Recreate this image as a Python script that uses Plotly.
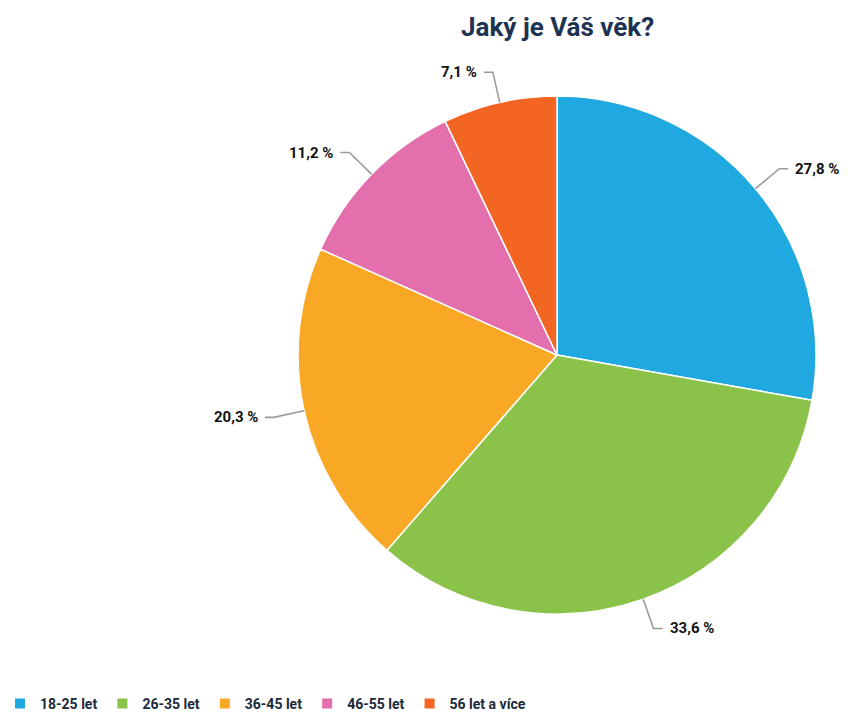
import math
import plotly.graph_objects as go

# Age groups and their share of respondents (%)
age_groups = ["18-25 let", "26-35 let", "36-45 let", "46-55 let", "56 let a více"]
shares = [27.8, 33.6, 20.3, 11.2, 7.1]
colors = ["#20a8e0", "#8bc34a", "#f9a825", "#e46fad", "#f26522"]

W, H = 863, 720
CX, CY, R = 557, 355, 259  # pie centre and radius in pixels

def px(x):
    return x / W

def py(y):
    return 1 - y / H

fig = go.Figure()
fig.add_trace(go.Pie(
    labels=age_groups,
    values=shares,
    marker=dict(colors=colors, line=dict(color="white", width=1.5)),
    sort=False,
    direction="clockwise",
    rotation=0,
    textinfo="none",
    hoverinfo="label+percent",
    domain=dict(x=[px(CX - R), px(CX + R)], y=[py(CY + R), py(CY - R)]),
))

# Outside labels with leader lines, placed from each slice's mid angle
shapes = []
annotations = []
total = sum(shares)
cum = 0.0
for v in shares:
    mid = (cum + v / 2) / total * 2 * math.pi
    cum += v
    s, c = math.sin(mid), math.cos(mid)
    x0, y0 = CX + R * s, CY - R * c
    x1, y1 = CX + (R + 31) * s, CY - (R + 31) * c
    side = 1 if s >= 0 else -1
    x2 = x1 + side * 9
    shapes.append(dict(
        type="path", xref="paper", yref="paper",
        path=f"M {px(x0)},{py(y0)} L {px(x1)},{py(y1)} L {px(x2)},{py(y1)}",
        line=dict(color="#9a9a9a", width=1.6),
    ))
    text = f"{v:.1f}".replace(".", ",") + " %"
    annotations.append(dict(
        x=px(x2 + side * 5), y=py(y1), xref="paper", yref="paper",
        text=f"<b>{text}</b>", showarrow=False,
        xanchor="left" if side > 0 else "right", yanchor="middle",
        font=dict(family="Roboto", size=15, color="#111111"),
    ))

annotations.append(dict(
    x=px(CX), y=py(27), xref="paper", yref="paper",
    text="<b>Jaký je Váš věk?</b>", showarrow=False,
    xanchor="center", yanchor="middle",
    font=dict(family="Roboto", size=26, color="#1d3352"),
))

fig.update_layout(
    width=W, height=H,
    margin=dict(l=0, r=0, t=0, b=0),
    paper_bgcolor="white",
    plot_bgcolor="white",
    showlegend=True,
    legend=dict(
        orientation="h", x=0.0, xanchor="left", y=0.0, yanchor="bottom",
        font=dict(family="Roboto", size=14, color="#1a2a3a", weight="bold"),
        itemsizing="constant",
        itemwidth=30,
        traceorder="normal",
    ),
    shapes=shapes,
    annotations=annotations,
)

fig.write_html("out.html")
